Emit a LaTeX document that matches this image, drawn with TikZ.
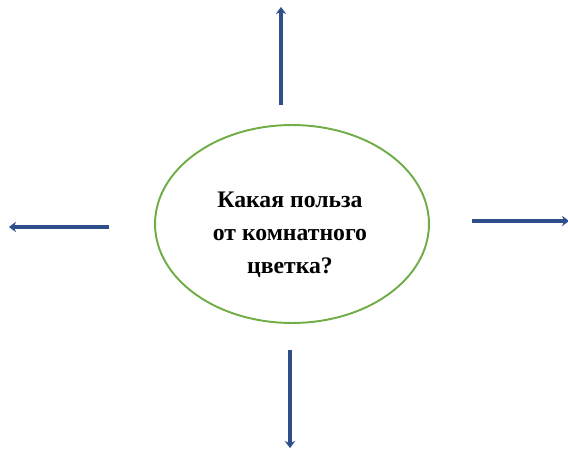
\documentclass[tikz,border=0pt]{standalone}
\usepackage{fontspec}
\setmainfont{Liberation Serif}
\usetikzlibrary{arrows.meta,shapes.geometric}
\definecolor{flechaazul}{HTML}{2F4F8A}
\definecolor{bordeverde}{HTML}{70AD47}
\tikzset{
    flecha/.style={line width=2.3pt, draw=flechaazul, -{Stealth[length=4pt,width=6pt]}},
    elipse/.style={ellipse, draw=bordeverde, line width=1.1pt, inner sep=0pt, minimum width=5.48cm, minimum height=3.96cm},
    pregunta/.style={align=center, font=\bfseries\fontsize{13.5}{18.8}\selectfont}
}
\begin{document}
\begin{tikzpicture}[x=0.02cm, y=-0.02cm]
    \useasboundingbox (0,0) rectangle (568,450);
    %------------Elipse--------------
    \node[elipse] (centro) at (292,224) {};
    \node[pregunta] (texto) at (290,235) {Какая польза\\от комнатного\\цветка?};
    %------------Flechas-------------
    \coordinate (arribaA) at (281,105);
    \coordinate (arribaB) at (281,7);
    \coordinate (izqA) at (109,227);
    \coordinate (izqB) at (9,227);
    \coordinate (derA) at (472,221);
    \coordinate (derB) at (569,221);
    \coordinate (abajoA) at (290,350);
    \coordinate (abajoB) at (290,448);
    \draw[flecha] (arribaA) -- (arribaB);
    \draw[flecha] (izqA) -- (izqB);
    \draw[flecha] (derA) -- (derB);
    \draw[flecha] (abajoA) -- (abajoB);
\end{tikzpicture}
\end{document}
